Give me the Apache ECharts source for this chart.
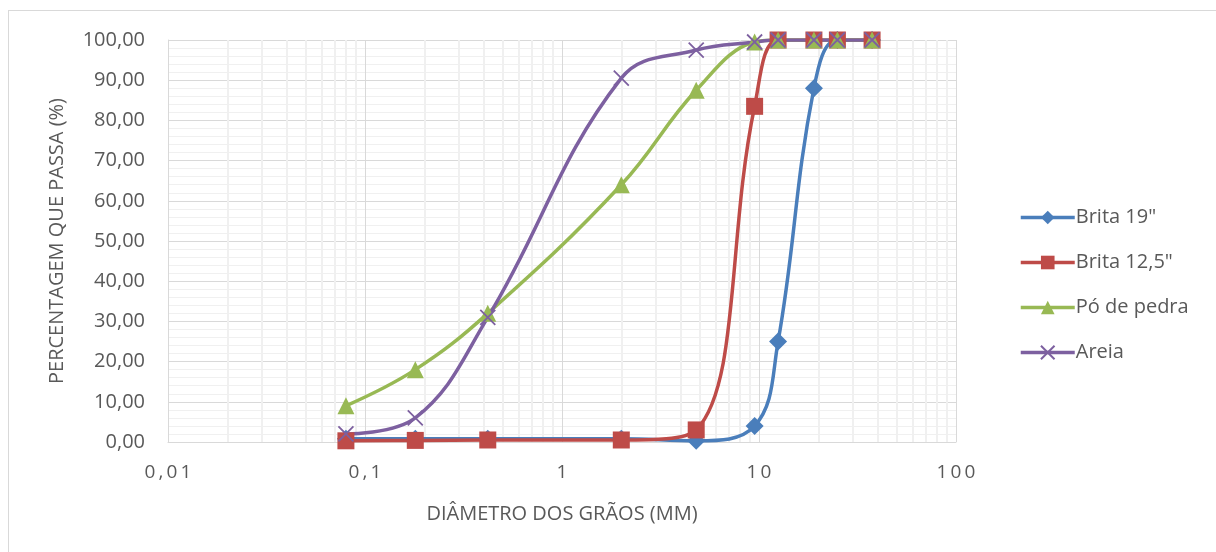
<!DOCTYPE html>
<html>
<head>
<meta charset="utf-8">
<script src="https://cdn.jsdelivr.net/npm/echarts@6/dist/echarts.min.js"></script>
<style>
  html, body { margin: 0; padding: 0; background: #fff; }
  #frame { position: absolute; left: 8px; top: 10px; width: 1220px; height: 560px;
           border: 1px solid #d9d9d9; box-sizing: border-box; }
  #chart { position: absolute; left: 0; top: 0; width: 1216px; height: 552px; }
</style>
</head>
<body>
<div id="frame"></div>
<div id="chart"></div>
<script>
// Sieve openings (mm) and percentage passing for each material
const sieves = [0.08, 0.18, 0.42, 2.0, 4.8, 9.5, 12.5, 19, 25, 37.5];
const brita19 = [0.8, 0.8, 0.8, 0.8, 0.3, 4.0, 25.0, 88.0, 100, 100];
const brita125 = [0.3, 0.4, 0.5, 0.5, 3.0, 83.5, 100, 100, 100, 100];
const poDePedra = [9.0, 18.0, 32.0, 64.0, 87.5, 99.5, 100, 100, 100, 100];
const areia = [2.0, 6.0, 31.0, 90.5, 97.5, 99.5, 100, 100, 100, 100];
const seriesNames = ['Brita 19"', 'Brita 12,5"', 'Pó de pedra', 'Areia'];
const xTickLabels = { 0.01: '0,01', 0.1: '0,1', 1: '1', 10: '10', 100: '100' };

const colors = ['#4a7ebb', '#be4b48', '#98b954', '#7d60a0'];
const crossPath = 'path://M0,0 L10,10 M10,0 L0,10';

function pairs(ys) { return sieves.map((x, i) => [x, ys[i]]); }

// minor log grid positions: 2..9 within each decade
const minorX = [];
for (let d = 0.01; d < 100; d *= 10) {
  for (let k = 2; k <= 9; k++) minorX.push({ xAxis: +(k * d).toPrecision(3) });
}

const textColor = '#595959';
const font = '"Open Sans", "Liberation Sans", sans-serif';

function makeSeries(name, ys, color, symbol, size, extra) {
  return Object.assign({
    name: name,
    type: 'line',
    data: pairs(ys),
    smooth: 0.4,
    z: 3,
    symbol: symbol,
    symbolSize: size,
    lineStyle: { color: color, width: 3.5 },
    itemStyle: { color: color },
    emphasis: { disabled: true }
  }, extra || {});
}

const chart = echarts.init(document.getElementById('chart'), null, { renderer: 'canvas' });
chart.setOption({
  animation: false,
  textStyle: { fontFamily: font },
  grid: { left: 168, right: 260, top: 40, bottom: 110 },
  legend: {
    orient: 'vertical',
    left: 1014,
    top: 202,
    itemWidth: 54,
    itemHeight: 17,
    itemGap: 24,
    lineStyle: { width: 3.5 },
    textStyle: { color: textColor, fontSize: 20, lineHeight: 21, fontFamily: font, padding: [0, 0, 0, -4] },
    data: seriesNames
  },
  xAxis: {
    type: 'log',
    logBase: 10,
    min: 0.01,
    max: 100,
    name: 'DIÂMETRO DOS GRÃOS (MM)',
    nameLocation: 'middle',
    nameGap: 62,
    nameTextStyle: { color: textColor, fontSize: 20, fontFamily: font },
    axisLine: { show: true, lineStyle: { color: '#d9d9d9', width: 1 } },
    axisTick: { show: false },
    axisLabel: {
      color: textColor,
      fontSize: 19,
      margin: 21,
      formatter: v => {
        const key = +v.toPrecision(3);
        const s = xTickLabels[key] !== undefined ? xTickLabels[key] : String(v);
        return s.split('').join('\u2009');
      }
    },
    splitLine: { show: true, lineStyle: { color: '#d9d9d9', width: 1 } }
  },
  yAxis: {
    type: 'value',
    min: 0,
    max: 100,
    interval: 10,
    name: 'PERCENTAGEM QUE PASSA (%)',
    nameLocation: 'middle',
    nameGap: 101,
    nameRotate: 90,
    nameTextStyle: { color: textColor, fontSize: 20, fontFamily: font },
    axisLine: { show: true, lineStyle: { color: '#d9d9d9', width: 1 } },
    axisTick: { show: false },
    axisLabel: {
      color: textColor,
      fontSize: 20,
      margin: 23,
      formatter: v => v.toFixed(2).replace('.', ',')
    },
    splitLine: { show: true, lineStyle: { color: '#d9d9d9', width: 1 } },
    minorTick: { show: false, splitNumber: 5 },
    minorSplitLine: { show: true, lineStyle: { color: '#f0f0f0', width: 1 } }
  },
  series: [
    {
      // minor vertical grid lines of the log axis
      type: 'line',
      data: [],
      z: 1,
      silent: true,
      markLine: {
        silent: true,
        z: 1,
        symbol: ['none', 'none'],
        label: { show: false },
        lineStyle: { color: '#f0f0f0', width: 2, type: 'solid' },
        emphasis: { disabled: true },
        data: minorX
      }
    },
    makeSeries(seriesNames[0], brita19, colors[0], 'diamond', 18),
    makeSeries(seriesNames[1], brita125, colors[1], 'rect', 17),
    makeSeries(seriesNames[2], poDePedra, colors[2], 'triangle', 17),
    makeSeries(seriesNames[3], areia, colors[3], crossPath, 15, {
      itemStyle: { color: 'rgba(0,0,0,0)', borderColor: colors[3], borderWidth: 1.8 }
    })
  ]
});
</script>
</body>
</html>
